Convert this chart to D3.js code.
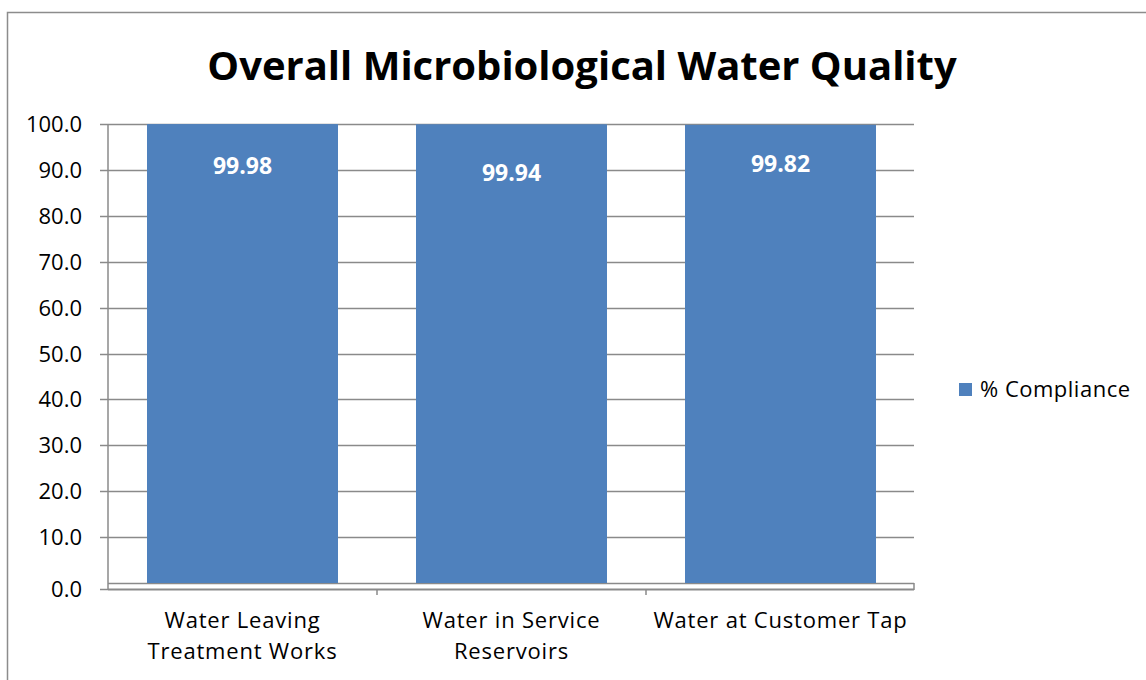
<!DOCTYPE html>
<html><head><meta charset="utf-8">
<script src="https://cdn.jsdelivr.net/npm/d3@7"></script>
<style>
html,body{margin:0;padding:0;background:#fff;}
svg{display:block;}
text{font-family:"Open Sans","Liberation Sans",sans-serif;}
</style></head>
<body>
<script>
const title = "Overall Microbiological Water Quality";
const categories = [["Water Leaving","Treatment Works"],["Water in Service","Reservoirs"],["Water at Customer Tap"]];
const values = [99.98, 99.94, 99.82];
const valueLabels = ["99.98","99.94","99.82"];
const seriesName = "% Compliance";
const yTicks = [0,10,20,30,40,50,60,70,80,90,100];

const W = 1146, H = 680;
const labelDy = [50, 57, 47];
const svg = d3.select("body").append("svg").attr("width", W).attr("height", H);

// outer border
svg.append("rect").attr("x",7.5).attr("y",12.5).attr("width",W+10).attr("height",H+10)
  .attr("fill","none").attr("stroke","#8c8c8c").attr("stroke-width",1.5);

svg.append("text").attr("x",582).attr("y",80).attr("text-anchor","middle")
  .attr("font-size",40).attr("font-weight","bold").attr("fill","#000").text(title);

const pLeft = 108, pRight = 915, pTop = 124, pBottom = 583;
const y = d3.scaleLinear().domain([0,100]).range([pBottom, pTop]);
const x = d3.scaleBand().domain(d3.range(categories.length)).range([pLeft, pRight]).paddingInner(0.29).paddingOuter(0.145);

const grid = "#8a8a8a";
// gridlines
svg.append("g").selectAll("line").data(yTicks).join("line")
  .attr("x1", pLeft).attr("x2", pRight-1)
  .attr("y1", d => Math.round(y(d))+0.5).attr("y2", d => Math.round(y(d))+0.5)
  .attr("stroke", grid).attr("stroke-width",1.5);

// y axis
const yAxis = d3.axisLeft(y).tickValues(yTicks).tickFormat(d3.format(".1f")).tickSize(8).tickPadding(18);
const yg = svg.append("g").attr("transform",`translate(${pLeft},0)`).call(yAxis);
yg.select(".domain").remove();
yg.selectAll(".tick line").attr("stroke",grid).attr("stroke-width",1.5);
yg.selectAll(".tick").attr("transform", d => `translate(0,${Math.round(y(d))+0.5 + (d===0?6:0)})`);
yg.selectAll(".tick text").attr("font-size",22).attr("fill","#000").attr("font-family",null);
svg.append("line").attr("x1",pLeft).attr("x2",pLeft).attr("y1",pTop).attr("y2",pBottom+7)
  .attr("stroke",grid).attr("stroke-width",1.5);

// floor / x axis
svg.append("line").attr("x1",pLeft).attr("x2",pRight-1).attr("y1",pBottom+6.5).attr("y2",pBottom+6.5)
  .attr("stroke",grid).attr("stroke-width",2);
svg.append("line").attr("x1",pRight-1).attr("x2",pRight-1).attr("y1",pBottom).attr("y2",pBottom+7)
  .attr("stroke",grid).attr("stroke-width",1.5);
const xb = d3.range(categories.length+1).map(i => pLeft + i*(pRight-pLeft)/categories.length);
svg.append("g").selectAll("line").data(xb.slice(1,-1)).join("line")
  .attr("x1",d=>d).attr("x2",d=>d).attr("y1",pBottom+6).attr("y2",pBottom+12)
  .attr("stroke",grid).attr("stroke-width",1.5);

// bars
svg.append("g").selectAll("rect").data(values).join("rect")
  .attr("x",(d,i)=>x(i)).attr("width",x.bandwidth())
  .attr("y",d=>y(d)).attr("height",d=>pBottom-y(d))
  .attr("fill","#4F81BD");

svg.append("g").selectAll("text").data(values).join("text")
  .attr("x",(d,i)=>x(i)+x.bandwidth()/2).attr("y",(d,i)=>y(d)+labelDy[i])
  .attr("text-anchor","middle").attr("font-size",23).attr("font-weight","bold").attr("fill","#fff")
  .text((d,i)=>valueLabels[i]);

// x labels
const xl = svg.append("g").selectAll("text").data(categories).join("text")
  .attr("x",(d,i)=>(xb[i]+xb[i+1])/2).attr("y",628).attr("text-anchor","middle")
  .attr("font-size",22).attr("letter-spacing","0.8px").attr("fill","#000");
xl.selectAll("tspan").data(d=>d).join("tspan")
  .attr("x",function(){return this.parentNode.getAttribute("x");})
  .attr("dy",(d,j)=>j===0?0:31).text(d=>d);

// legend
svg.append("rect").attr("x",959).attr("y",383).attr("width",13).attr("height",13).attr("fill","#4F81BD");
svg.append("text").attr("x",980).attr("y",397).attr("font-size",22).attr("letter-spacing","0.5px").attr("fill","#000").text(seriesName);
</script>
</body></html>
